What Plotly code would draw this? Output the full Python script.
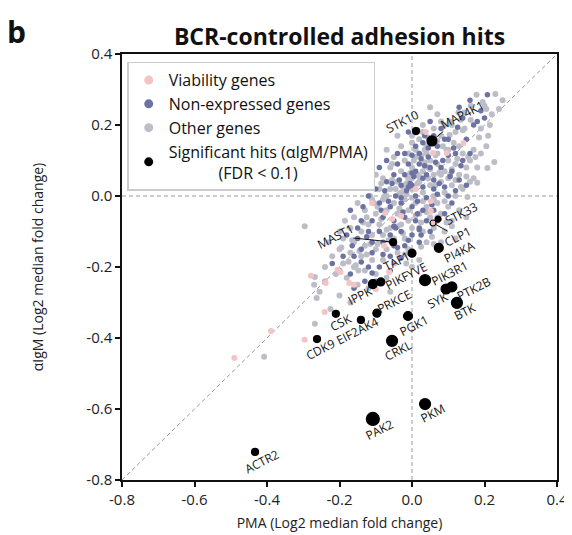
import plotly.graph_objects as go

# ---------------- data ----------------
hit_genes = ["STK10", "MAP4K1", "STK33", "CLP1", "MAST1", "TAF1", "PI4KA", "PIK3R1",
             "PIKFYVE", "IPPK", "SYK", "PTK2B", "BTK", "PRKCE", "CSK", "EIF2AK4",
             "PGK1", "CDK9", "CRKL", "PAK2", "PKM", "ACTR2"]
hit_x = [0.011, 0.055, 0.072, 0.058, -0.052, 0.000, 0.074, 0.036,
         -0.086, -0.108, 0.094, 0.110, 0.124, -0.097, -0.210, -0.141,
         -0.011, -0.262, -0.055, -0.108, 0.036, -0.433]
hit_y = [0.183, 0.155, -0.065, -0.076, -0.130, -0.161, -0.146, -0.237,
         -0.242, -0.248, -0.262, -0.256, -0.301, -0.330, -0.332, -0.349,
         -0.338, -0.403, -0.408, -0.628, -0.586, -0.721]

viab_x = [-0.279, -0.238, -0.241, -0.389, -0.296, -0.49, -0.205, -0.197, -0.173, -0.16,
          -0.1, -0.063, -0.077, 0.038, 0.058, 0.052, 0.052, -0.074, -0.055, -0.03,
          0.142, 0.096, -0.11, 0.01]
viab_y = [-0.225, -0.245, -0.327, -0.38, -0.405, -0.456, -0.208, -0.214, -0.245, -0.25,
          -0.263, -0.214, -0.14, 0.18, 0.121, -0.014, -0.042, -0.048, -0.065, -0.056,
          0.149, 0.121, -0.02, 0.02]

nonexp_x = [0.126, 0.208, 0.09, 0.06, 0.03, 0.01, -0.01, 0.02, 0.05, 0.08, 0.11, 0.04, 0.01,
            -0.02, -0.05, -0.04, -0.07, -0.03, 0.0, 0.03, 0.06, 0.09, 0.12, 0.1, 0.07, 0.04,
            0.01, -0.015, -0.045, -0.075, -0.1, -0.09, -0.06, -0.03, 0.0, 0.03, 0.06, 0.09,
            0.04, 0.01, -0.02, -0.05, -0.08, -0.11, -0.14, -0.12, -0.09, -0.06, -0.03, 0.0,
            -0.02, -0.05, -0.08, -0.11, -0.15, -0.18, -0.14, -0.11, -0.08, -0.14, -0.11, -0.16,
            -0.19, -0.12, -0.09, -0.06, -0.2, -0.22, -0.17, 0.14, 0.16, 0.12, 0.1, 0.15,
            0.18, 0.2, 0.13, 0.08, 0.05, 0.035, -0.01, 0.02, -0.04, -0.07, -0.09, 0.07,
            0.1, 0.13, 0.15, 0.11, 0.07, 0.05, 0.02, -0.01, 0.02, -0.03, -0.06, -0.1,
            -0.13, -0.16, -0.135, -0.12, -0.15, -0.17, 0.03, 0.06, -0.005, -0.055, -0.02, 0.17,
            0.14, 0.16, 0.19, 0.045, 0.085, -0.025, -0.065, 0.015, -0.035, 0.055, 0.105, 0.0,
            -0.085, -0.125, 0.025, 0.075, -0.165, -0.045, 0.115, 0.135,
            0.005, 0.025, -0.01, 0.035, 0.015, -0.03, 0.045, 0.065, -0.05, 0.02, 0.0, -0.04]
nonexp_y = [0.194, 0.285, 0.16, 0.17, 0.15, 0.14, 0.09, 0.09, 0.08, 0.08, 0.07, 0.06, 0.07,
            0.06, 0.06, 0.09, 0.04, 0.03, 0.03, 0.025, 0.02, 0.025, 0.015, 0.0, 0.005, -0.005,
            0.0, 0.015, 0.0, 0.015, 0.02, -0.02, -0.03, -0.02, -0.03, -0.04, -0.04, -0.05,
            -0.07, -0.07, -0.06, -0.07, -0.06, -0.07, -0.07, -0.1, -0.1, -0.11, -0.1, -0.11,
            -0.14, -0.14, -0.13, -0.13, -0.12, -0.11, -0.15, -0.16, -0.165, -0.186, -0.217, -0.17,
            -0.17, -0.2, -0.2, -0.21, -0.21, -0.19, -0.22, 0.1, 0.12, 0.12, 0.16, 0.16,
            0.21, 0.22, 0.25, 0.19, 0.21, 0.17, 0.18, 0.12, 0.12, 0.1, 0.08, 0.14,
            0.115, 0.045, 0.03, -0.02, -0.07, -0.1, -0.09, -0.125, -0.13, -0.175, -0.17, -0.24,
            -0.24, -0.26, -0.03, 0.0, -0.09, -0.04, 0.05, 0.045, 0.035, 0.035, 0.12, 0.2,
            0.22, 0.27, 0.24, 0.11, 0.1, -0.045, -0.015, -0.015, 0.045, -0.025, 0.055, 0.065,
            -0.04, -0.115, -0.11, 0.035, -0.14, -0.09, 0.135, 0.085,
            0.055, 0.105, 0.025, 0.085, -0.05, -0.005, 0.135, 0.095, -0.085, -0.095, 0.115, -0.145]

other_x = [0.178, 0.23, 0.162, 0.2, 0.205, 0.162, 0.135, 0.128, 0.104, 0.09, 0.12, 0.145,
           0.07, 0.25, 0.215, 0.185, 0.227, 0.153, 0.17, 0.19, 0.205, 0.14, 0.115, 0.08,
           0.06, 0.03, 0.02, 0.0, -0.01, 0.04, -0.02, 0.01, 0.05, 0.07, 0.1, 0.12,
           0.13, 0.09, 0.06, 0.03, 0.0, -0.03, -0.06, -0.05, -0.08, -0.1, -0.04, -0.01,
           0.02, 0.05, 0.08, 0.11, 0.14, 0.12, 0.09, 0.06, 0.03, 0.0, -0.03, -0.06,
           -0.09, -0.12, -0.11, -0.08, -0.05, -0.02, 0.01, 0.04, 0.07, 0.1, 0.13, 0.08,
           0.05, 0.02, -0.01, -0.04, -0.07, -0.1, -0.13, -0.15, -0.16, -0.12, -0.09, -0.06,
           -0.03, 0.0, 0.03, 0.06, 0.09, -0.02, -0.05, -0.08, -0.11, -0.14, -0.17, -0.19,
           -0.16, -0.13, -0.1, -0.07, -0.04, -0.01, 0.025, -0.016, -0.05, -0.08, -0.11, -0.14,
           -0.17, -0.2, -0.22, -0.19, -0.16, -0.13, -0.148, -0.1, -0.07, -0.24, -0.21, -0.18,
           -0.15, -0.12, -0.296, -0.268, -0.255, -0.263, -0.225, -0.268, -0.408, -0.2, -0.17, 0.0,
           0.02, 0.0, 0.03, -0.03, 0.05, 0.1, 0.13, 0.16, 0.15, 0.18, 0.17, 0.11,
           0.08, 0.05, -0.07, -0.04, 0.19, 0.21, 0.22, -0.12, -0.14, 0.16, 0.15, 0.11,
           0.12, 0.08, 0.04, 0.1, 0.07, 0.04, 0.01, -0.02, 0.015, 0.045, 0.075, -0.07,
           -0.095, -0.125, -0.035, 0.025, 0.055, -0.185, -0.2, -0.23, 0.085, 0.035, 0.0, 0.208,
           0.18, -0.005, 0.065, -0.085, 0.095, -0.055, 0.025, -0.115, 0.135, -0.025, 0.045, -0.175,
           0.105, -0.065, 0.015, -0.145, -0.035, 0.155, -0.24, -0.27, -0.06, -0.02,
           0.005, 0.035, 0.065, 0.095, 0.125, -0.025, -0.055, -0.085, -0.115, 0.01, 0.04, 0.07,
           -0.01, -0.04, -0.07, 0.02, 0.05, 0.08, 0.11, -0.045, -0.075, -0.105, -0.135, 0.0,
           0.03, 0.06, 0.09, 0.12, 0.15, -0.015, 0.175, 0.14, 0.105, 0.07, 0.035, -0.165,
           -0.195, -0.155, -0.125, -0.095, 0.045, 0.015, -0.015, 0.145, 0.195, 0.24, 0.11, 0.06]
other_y = [0.285, 0.287, 0.254, 0.254, 0.245, 0.214, 0.215, 0.235, 0.172, 0.2, 0.18, 0.19,
           0.23, 0.27, 0.2, 0.165, 0.096, -0.003, 0.05, 0.12, 0.14, 0.12, 0.15, 0.17,
           0.19, 0.2, 0.16, 0.15, 0.12, 0.14, 0.1, 0.11, 0.1, 0.12, 0.1, 0.09,
           0.06, 0.07, 0.06, 0.07, 0.08, 0.07, 0.08, 0.11, 0.05, 0.06, 0.04, 0.05,
           0.04, 0.03, 0.04, 0.03, 0.02, 0.0, 0.01, 0.0, 0.01, 0.02, 0.01, 0.02,
           0.02, 0.03, -0.01, -0.01, -0.02, -0.01, -0.02, -0.03, -0.02, -0.03, -0.04, -0.05,
           -0.06, -0.05, -0.04, -0.05, -0.04, -0.05, -0.04, -0.02, -0.06, -0.08, -0.08, -0.09,
           -0.08, -0.09, -0.1, -0.09, -0.1, -0.12, -0.12, -0.11, -0.11, -0.1, -0.09, -0.12,
           -0.13, -0.14, -0.15, -0.15, -0.16, -0.15, -0.143, -0.19, -0.19, -0.18, -0.18, -0.17,
           -0.16, -0.15, -0.17, -0.19, -0.2, -0.21, -0.21, -0.22, -0.23, -0.2, -0.22, -0.23,
           -0.25, -0.26, -0.085, -0.228, -0.27, -0.287, -0.318, -0.36, -0.453, -0.28, -0.3, -0.2,
           -0.18, 0.17, 0.18, 0.14, 0.15, 0.13, 0.14, 0.1, 0.08, 0.08, 0.13, 0.2,
           0.21, 0.25, 0.13, 0.17, 0.19, 0.17, 0.23, 0.08, 0.05, 0.04, -0.06, -0.07,
           -0.12, -0.13, -0.13, 0.05, 0.09, 0.12, 0.13, 0.03, 0.06, 0.05, 0.065, 0.0,
           -0.03, -0.06, -0.035, -0.075, -0.115, -0.07, -0.1, -0.13, 0.14, 0.095, 0.05, 0.079,
           0.037, 0.065, 0.03, -0.065, -0.075, 0.09, 0.115, -0.135, 0.025, -0.105, 0.08, -0.185,
           0.06, -0.125, 0.035, -0.155, 0.005, 0.11, -0.24, -0.25, -0.27, -0.165,
           0.1, 0.085, 0.115, 0.13, 0.105, 0.025, 0.045, 0.035, 0.0, -0.055, -0.045, -0.06,
           -0.07, -0.085, -0.095, 0.055, 0.075, 0.06, 0.075, 0.02, 0.0, -0.02, -0.075, -0.005,
           -0.015, -0.01, -0.015, 0.045, 0.055, 0.035, 0.11, 0.185, 0.21, 0.155, 0.13, -0.125,
           -0.145, -0.195, -0.165, -0.135, 0.165, 0.185, 0.005, 0.235, 0.265, 0.245, -0.085, -0.135]

x_ticks = [-0.8, -0.6, -0.4, -0.2, 0.0, 0.2, 0.4]
x_tick_labels = ["-0.8", "-0.6", "-0.4", "-0.2", "0.0", "0.2", "0.4"]
y_ticks = [-0.8, -0.6, -0.4, -0.2, 0.0, 0.2, 0.4]
y_tick_labels = ["-0.8", "-0.6", "-0.4", "-0.2", "0.0", "0.2", "0.4"]

# ---------------- styles ----------------
FONT = "Open Sans"
C_VIAB = "#f4c4c4"
C_NONEXP = "#6c72a1"
C_OTHER = "#bdbdc8"
C_HIT = "#000000"
hit_sizes = [7, 10, 6, 6, 7, 8, 9, 11, 8, 9, 10, 10, 11, 8, 7, 7, 9, 7, 11, 13, 11, 7]
hit_colors = [C_HIT] * len(hit_genes)
hit_colors[hit_genes.index("CLP1")] = C_VIAB

# label offsets (pixels): (dx, dy) from the point, dy positive downward
label_offsets = {
    "STK10": (-14, -10), "STK33": (23, -6), "PI4KA": (21, 4), "TAF1": (-16, 8),
    "PIK3R1": (24, -7), "PIKFYVE": (26, -6), "IPPK": (-13, 11), "PRKCE": (17, -12),
    "SYK": (-9, 11), "PTK2B": (22, 2), "BTK": (8, 9), "CSK": (5, 9),
    "EIF2AK4": (-3, 11), "CDK9": (3, 10), "PGK1": (6, 10), "CRKL": (6, 10),
    "PAK2": (7, 11), "PKM": (7, 9), "ACTR2": (7, 10),
}
arrow_offsets = {"MAST1": (-58, -6), "MAP4K1": (31, -26), "CLP1": (25, 14)}

# The page body has an 8px margin, so the figure is drawn 8px smaller and margins compensate.
W, H = 564, 527
M_L, M_R, M_T, M_B = 114, 15, 46, 55
PLOT_H = H - M_T - M_B

fig = go.Figure()

fig.add_trace(go.Scatter(x=other_x, y=other_y, mode="markers", showlegend=False,
                         marker=dict(color=C_OTHER, size=6, opacity=1), hoverinfo="skip"))
fig.add_trace(go.Scatter(x=nonexp_x, y=nonexp_y, mode="markers", showlegend=False,
                         marker=dict(color=C_NONEXP, size=5.5, opacity=1), hoverinfo="skip"))
fig.add_trace(go.Scatter(x=viab_x, y=viab_y, mode="markers", showlegend=False,
                         marker=dict(color=C_VIAB, size=6, opacity=1), hoverinfo="skip"))
fig.add_trace(go.Scatter(x=hit_x, y=hit_y, mode="markers", showlegend=False,
                         text=hit_genes, opacity=1,
                         marker=dict(color=hit_colors, size=hit_sizes, opacity=1,
                                     line=dict(color=C_HIT, width=1.2))))

# legend entries
legend_items = [("Viability genes", C_VIAB), ("Non-expressed genes", C_NONEXP),
                ("Other genes", C_OTHER),
                ("Significant hits (αIgM/PMA)<br>" + "\u00a0" * 12 + "(FDR < 0.1)", C_HIT)]
for name, col in legend_items:
    fig.add_trace(go.Scatter(x=[None], y=[None], mode="markers", name=name,
                             marker=dict(color=col, size=9, opacity=1)))

# reference lines
line_style = dict(color="#9a9a9a", width=1, dash="4px,3px")
fig.add_shape(type="line", x0=-0.8, x1=0.4, y0=0, y1=0, line=line_style, layer="below")
fig.add_shape(type="line", x0=0, x1=0, y0=-0.8, y1=0.4, line=line_style, layer="below")
fig.add_shape(type="line", x0=-0.8, x1=0.4, y0=-0.8, y1=0.4, line=line_style, layer="below")

# labels
anns = []
for g, x, y in zip(hit_genes, hit_x, hit_y):
    if g in label_offsets:
        dx, dy = label_offsets[g]
        anns.append(dict(x=x, y=y, text=g, showarrow=False, textangle=-27,
                         xshift=dx, yshift=-dy, font=dict(size=12, color="#111", family=FONT)))
    elif g in arrow_offsets:
        dx, dy = arrow_offsets[g]
        anns.append(dict(x=x, y=y, text=g, showarrow=True, arrowhead=0, arrowwidth=1,
                         arrowcolor="#111", ax=dx, ay=dy, standoff=3, textangle=-27,
                         font=dict(size=12, color="#111", family=FONT)))
anns.append(dict(xref="paper", yref="paper", x=-0.268, y=1 + (M_T - 1) / PLOT_H,
                 xanchor="left", yanchor="top",
                 text="<b>b</b>", showarrow=False, font=dict(size=30, color="#111", family=FONT)))

fig.update_layout(
    width=W, height=H,
    margin=dict(l=M_L, r=M_R, t=M_T, b=M_B),
    paper_bgcolor="white", plot_bgcolor="white",
    font=dict(family=FONT, size=14, color="#222"),
    title=dict(text="<b>BCR-controlled adhesion hits</b>", x=0.5, xref="paper",
               y=1 - 29 / H, yref="container", xanchor="center", yanchor="middle",
               font=dict(size=23, color="#111", family=FONT)),
    legend=dict(x=0.012, y=0.982, xanchor="left", yanchor="top",
                bgcolor="white", bordercolor="#cccccc", borderwidth=1.5,
                font=dict(size=16, color="#111", family=FONT),
                itemwidth=30, tracegroupgap=0),
    annotations=anns,
    xaxis=dict(range=[-0.8, 0.4], tickvals=x_ticks, ticktext=x_tick_labels, automargin=False,
               showgrid=False, zeroline=False, showline=True, linecolor="#111", linewidth=1.5,
               mirror=True, ticks="outside", ticklen=5, tickwidth=1.5, tickcolor="#111",
               tickfont=dict(size=15, color="#222"),
               title=dict(text="PMA (Log2 median fold change)", standoff=10,
                          font=dict(size=14, color="#222"))),
    yaxis=dict(range=[-0.8, 0.4], tickvals=y_ticks, ticktext=y_tick_labels, automargin=False,
               showgrid=False, zeroline=False, showline=True, linecolor="#111", linewidth=1.5,
               mirror=True, ticks="outside", ticklen=5, tickwidth=1.5, tickcolor="#111",
               tickfont=dict(size=15, color="#222"),
               title=dict(text="αIgM (Log2 median fold change)", standoff=39,
                          font=dict(size=14, color="#222"))),
)

fig.write_html("out.html")
